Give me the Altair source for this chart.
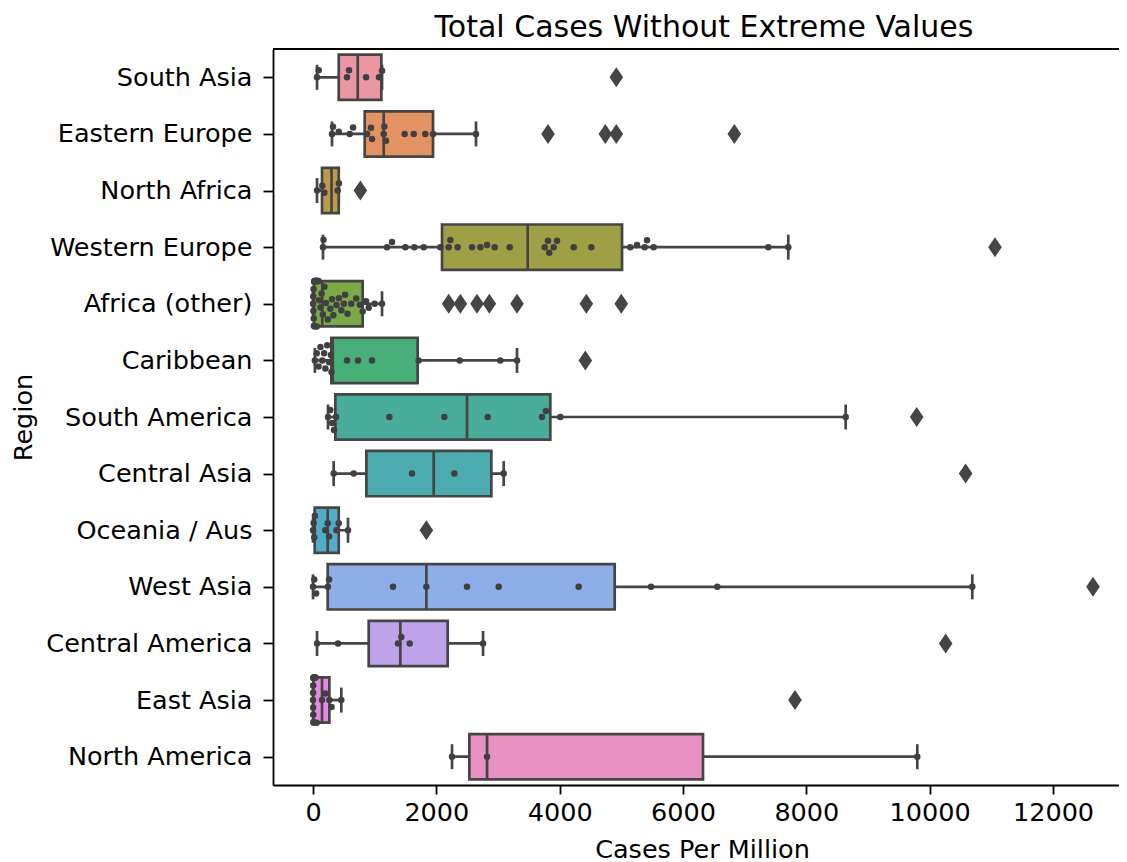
import math
import json
import colorsys
import numpy as np
import pandas as pd
import altair as alt

# ---------------- data ----------------
title_text = "Total Cases Without Extreme Values"
regions = ["South Asia", "Eastern Europe", "North Africa", "Western Europe",
           "Africa (other)", "Caribbean", "South America", "Central Asia",
           "Oceania / Aus", "West Asia", "Central America", "East Asia",
           "North America"]

whisker_low = [65, 308, 65, 162, 0, 30, 243, 335, 0, 0, 65, 0, 2254]
q1 = [417, 838, 146, 2092, 15, 297, 362, 865, 27, 238, 903, 5, 2535]
median = [725, 1146, 300, 3481, 150, 320, 2497, 1957, 238, 1838, 1416, 146, 2822]
q3 = [1108, 1946, 417, 5011, 805, 1697, 3848, 2892, 417, 4892, 2184, 265, 6324]
whisker_high = [1119, 2643, 417, 7707, 1119, 3308, 8638, 3092, 567, 10691, 2757, 459, 9799]

pts_south_asia = [65, 92, 551, 584, 860, 1070, 1119]
pts_eastern_europe = [308, 324, 417, 595, 649, 876, 940, 957, 1146, 1157, 1184,
                      1486, 1633, 1821, 1946, 2643]
pts_north_africa = [65, 150, 184, 400, 420]
pts_western_europe = [162, 170, 1200, 1281, 1497, 1643, 1795, 2065, 2200, 2227,
                      2346, 2578, 2714, 2822, 2946, 3189, 3757, 3811, 3830, 3903,
                      3957, 4227, 4513, 5145, 5254, 5378, 5416, 5524, 7383, 7707]
pts_africa_other = [0, 3, 6, 9, 12, 15, 18, 22, 26, 30, 35, 40, 45, 50, 55, 60,
                    66, 72, 80, 90, 100, 120, 140, 160, 185, 210, 240, 280, 308,
                    330, 380, 420, 459, 500, 520, 560, 620, 700, 760, 805, 860,
                    903, 1000, 1119]
pts_caribbean = [30, 60, 90, 120, 150, 180, 200, 230, 260, 290, 300, 551, 730,
                 957, 1713, 2378, 3037, 3308]
pts_south_america = [243, 280, 310, 340, 373, 1238, 2129, 2833, 3713, 3778,
                     4010, 8638]
pts_central_asia = [335, 659, 1605, 2292, 3092]
pts_oceania = [0, 10, 20, 30, 200, 238, 260, 380, 417, 567]
pts_west_asia = [0, 20, 50, 240, 260, 1297, 1838, 2497, 3011, 4308, 5481,
                 6556, 10691]
pts_central_america = [65, 405, 1378, 1432, 1568, 2757]
pts_east_asia = [0, 1, 2, 3, 4, 5, 7, 9, 11, 14, 18, 22, 30, 40, 60, 146, 200,
                 265, 300, 459]
pts_north_america = [2254, 2822, 9799]

out_south_asia = [4918]
out_eastern_europe = [3811, 4740, 4918, 6832]
out_north_africa = [768]
out_western_europe = [11059]
out_africa_other = [2200, 2389, 2659, 2859, 3308, 4432, 4999]
out_caribbean = [4416]
out_south_america = [9789]
out_central_asia = [10583]
out_oceania = [1838]
out_west_asia = [12648]
out_central_america = [10259]
out_east_asia = [7816]
out_north_america = []

points = [pts_south_asia, pts_eastern_europe, pts_north_africa, pts_western_europe,
          pts_africa_other, pts_caribbean, pts_south_america, pts_central_asia,
          pts_oceania, pts_west_asia, pts_central_america, pts_east_asia,
          pts_north_america]
outliers = [out_south_asia, out_eastern_europe, out_north_africa, out_western_europe,
            out_africa_other, out_caribbean, out_south_america, out_central_asia,
            out_oceania, out_west_asia, out_central_america, out_east_asia,
            out_north_america]

# ---------------- layout ----------------
W = 846
H = 736
X_MIN = -649
X_MAX = 13070
BAND = H / len(regions)
DOT = 6.5

# ---------------- seaborn-like husl palette ----------------
_m = [[3.2406, -1.5372, -0.4986], [-0.9689, 1.8758, 0.0415], [0.0557, -0.2040, 1.0570]]
_refU, _refV = 0.19784, 0.46834


def _max_chroma(L, H_):
    hrad = math.radians(H_)
    sinH, cosH = math.sin(hrad), math.cos(hrad)
    sub1 = (L + 16) ** 3 / 1560896.0
    sub2 = sub1 if sub1 > 0.008856 else L / 903.3
    result = float("inf")
    for m1, m2, m3 in _m:
        top = (0.99915 * m1 + 1.05122 * m2 + 1.14460 * m3) * sub2
        rb = 0.86330 * m3 - 0.17266 * m2
        lb = 0.12949 * m3 - 0.38848 * m1
        bottom = (rb * sinH + lb * cosH) * sub2
        for t in (0.0, 1.0):
            C = L * (top - 1.05122 * t) / (bottom + 0.17266 * sinH * t)
            if 0.0 < C < result:
                result = C
    return result


def _husl_to_rgb(h, s, l):
    C = _max_chroma(l, h) / 100.0 * s
    hr = math.radians(h)
    U, V = math.cos(hr) * C, math.sin(hr) * C
    t = (l + 16.0) / 116.0
    Y = t ** 3 if t ** 3 > 0.008856 else (116.0 * t - 16.0) / 903.3
    vU = U / (13.0 * l) + _refU
    vV = V / (13.0 * l) + _refV
    X = 0.0 - (9.0 * Y * vU) / ((vU - 4.0) * vV - vU * vV)
    Z = (9.0 * Y - 15.0 * vV * Y - vV * X) / (3.0 * vV)
    out = []
    for r in _m:
        c = r[0] * X + r[1] * Y + r[2] * Z
        c = 12.92 * c if c <= 0.0031308 else 1.055 * c ** (1 / 2.4) - 0.055
        out.append(min(max(c, 0.0), 1.0))
    return out


hues = (np.linspace(0, 1, len(regions) + 1)[:-1] + 0.01) % 1 * 359
palette = []
lights = []
for hh in hues:
    r, g, b = _husl_to_rgb(hh, 0.9 * 99, 0.7 * 99)
    hl, ll, sl = colorsys.rgb_to_hls(r, g, b)
    r, g, b = colorsys.hls_to_rgb(hl, ll, sl * 0.75)
    lights.append(colorsys.rgb_to_hls(r, g, b)[1])
    palette.append("#%02x%02x%02x" % tuple(int(round(v * 255)) for v in (r, g, b)))
lum = int(round(min(lights) * 0.6 * 255))
GRAY = "#%02x%02x%02x" % (lum, lum, lum)
DOT_COLOR = "#404040"

# ---------------- tables ----------------
box_df = pd.DataFrame({"region": regions, "pos": list(range(len(regions))),
                       "wlo": whisker_low, "q1": q1, "med": median, "q3": q3,
                       "whi": whisker_high})
box_df["lo"] = box_df["pos"] - 0.4
box_df["hi"] = box_df["pos"] + 0.4

px_per_unit = W / (X_MAX - X_MIN)


def swarm_offsets(values, d, limit):
    order = np.argsort(values, kind="stable")
    placed = []
    offs = [0.0] * len(values)
    for idx in order:
        xi = values[idx] * px_per_unit
        neigh = [(xj, yj) for xj, yj in placed if abs(xi - xj) < d]
        cands = [0.0]
        left = True
        for xj, yj in neigh:
            dy = math.sqrt(max(d * d - (xi - xj) ** 2, 0)) * 1.05
            pair = [yj - dy, yj + dy] if left else [yj + dy, yj - dy]
            cands.extend(pair)
            left = not left
        cands.sort(key=lambda c: abs(c))
        chosen = cands[-1]
        for c in cands:
            if all((xi - xj) ** 2 + (c - yj) ** 2 >= (d * 0.999) ** 2 for xj, yj in neigh):
                chosen = c
                break
        chosen = max(-limit, min(limit, chosen))
        placed.append((xi, chosen))
        offs[idx] = chosen
    return offs


rows = []
for i, (reg, vals) in enumerate(zip(regions, points)):
    offs = swarm_offsets(vals, DOT + 0.5, BAND * 0.4)
    for v, o in zip(vals, offs):
        rows.append({"region": reg, "value": v, "ypos": i + o / BAND})
pts_df = pd.DataFrame(rows)

out_df = pd.DataFrame([{"region": reg, "value": v, "ypos": i}
                       for i, (reg, vals) in enumerate(zip(regions, outliers)) for v in vals])

# ---------------- chart ----------------
FONT = "DejaVu Sans"
FS = 25.5
xscale = alt.Scale(domain=[X_MIN, X_MAX], nice=False, zero=False)
yscale = alt.Scale(domain=[-0.5, len(regions) - 0.5], reverse=True, nice=False, zero=False)

y_axis = alt.Axis(title="Region", values=list(range(len(regions))),
                  labelExpr=json.dumps(regions) + "[datum.value]", grid=False,
                  labelFont=FONT, labelFontSize=FS, labelColor="black",
                  titleFont=FONT, titleFontSize=FS, titleFontWeight="normal",
                  titleColor="black", tickSize=10, tickWidth=1.8, tickColor="black",
                  domainColor="black", domainWidth=1.8, labelPadding=11,
                  titleX=-242, titleBaseline="alphabetic", labelLimit=400)
x_axis = alt.Axis(title="Cases Per Million", values=[0, 2000, 4000, 6000, 8000, 10000, 12000],
                  format="d", grid=False, labelFont=FONT, labelFontSize=FS,
                  labelColor="black", titleFont=FONT, titleFontSize=FS,
                  titleFontWeight="normal", titleColor="black", tickSize=9,
                  tickWidth=1.8, tickColor="black", domainColor="black",
                  domainWidth=1.8, labelPadding=6, titleX=429, titleY=72,
                  titleAlign="center", titleBaseline="alphabetic", labelFlush=False)

base = alt.Chart(box_df)

whisk = base.mark_rule(color=GRAY, strokeWidth=2.7).encode(
    x=alt.X("wlo:Q", scale=xscale, axis=x_axis), x2="whi:Q",
    y=alt.Y("pos:Q", scale=yscale, axis=y_axis))
cap_lo = base.mark_tick(orient="vertical", color=GRAY, thickness=2.7, size=25, opacity=1).encode(
    x=alt.X("wlo:Q", scale=xscale), y=alt.Y("pos:Q", scale=yscale))
cap_hi = base.mark_tick(orient="vertical", color=GRAY, thickness=2.7, size=25, opacity=1).encode(
    x=alt.X("whi:Q", scale=xscale), y=alt.Y("pos:Q", scale=yscale))
box = base.mark_bar(stroke=GRAY, strokeWidth=2.7, opacity=1).encode(
    x=alt.X("q1:Q", scale=xscale), x2="q3:Q",
    y=alt.Y("lo:Q", scale=yscale), y2="hi:Q",
    color=alt.Color("region:N", scale=alt.Scale(domain=regions, range=palette), legend=None))
med = base.mark_tick(orient="vertical", color=GRAY, thickness=2.7, size=BAND * 0.8,
                     opacity=1).encode(
    x=alt.X("med:Q", scale=xscale), y=alt.Y("pos:Q", scale=yscale))

dots = alt.Chart(pts_df).mark_circle(size=DOT * DOT, color=DOT_COLOR, opacity=1).encode(
    x=alt.X("value:Q", scale=xscale), y=alt.Y("ypos:Q", scale=yscale))

fliers = alt.Chart(out_df).mark_point(
    shape="M0,-1L0.68,0L0,1L-0.68,0Z", filled=True, size=400, color=GRAY, opacity=1,
    strokeWidth=0).encode(x=alt.X("value:Q", scale=xscale), y=alt.Y("ypos:Q", scale=yscale))

top_line = alt.Chart(box_df).mark_rule(color="black", strokeWidth=1.8).encode(
    x=alt.value(0), x2=alt.value(W + 10), y=alt.value(0))

title_mark = alt.Chart(pd.DataFrame({"t": [title_text]})).mark_text(
    font=FONT, fontSize=30, color="black", align="center", baseline="alphabetic").encode(
    x=alt.value(431), y=alt.value(-12), text="t:N")

chart = alt.layer(whisk, cap_lo, cap_hi, box, med, fliers, dots, top_line, title_mark).properties(
    width=W, height=H,
    autosize=alt.AutoSizeParams(type="none"),
    padding={"left": 265, "top": 41, "right": 0, "bottom": 80},
).configure_view(stroke=None).configure(background="white")

chart.save("out.html", embed_options={"renderer": "svg", "actions": False})
